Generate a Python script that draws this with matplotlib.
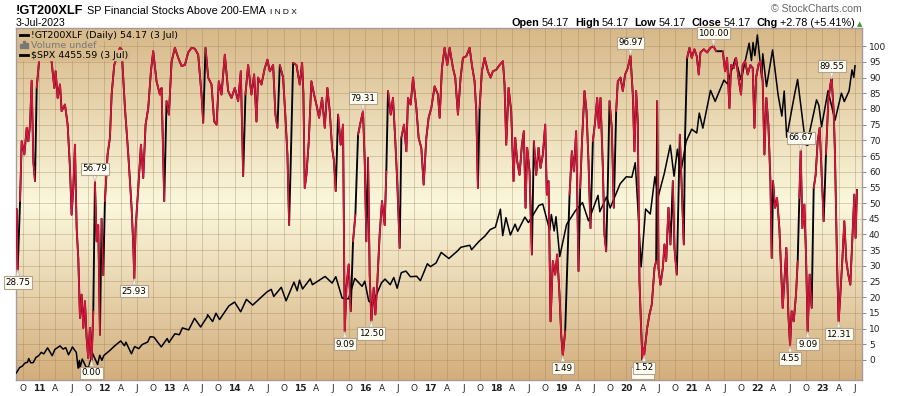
import matplotlib
matplotlib.use('Agg')
import matplotlib.pyplot as plt
from matplotlib.collections import LineCollection
from matplotlib.colors import LinearSegmentedColormap
from matplotlib.lines import Line2D
from matplotlib.patches import Rectangle
import numpy as np
import pandas as pd

# !GT200XLF - % of SP financial stocks above 200-EMA (x = decimal year)
gt_years = [
    2010.659, 2010.674, 2010.710, 2010.735, 2010.776, 2010.812, 2010.837, 2010.863,
    2010.888, 2010.914, 2010.939, 2010.965, 2011.000, 2011.031, 2011.092, 2011.143,
    2011.194, 2011.235, 2011.255, 2011.286, 2011.322, 2011.347, 2011.398, 2011.439,
    2011.475, 2011.500, 2011.526, 2011.551, 2011.577, 2011.602, 2011.628, 2011.653,
    2011.679, 2011.704, 2011.730, 2011.755, 2011.781, 2011.806, 2011.832, 2011.857,
    2011.883, 2011.908, 2011.934, 2011.959, 2011.985, 2012.010, 2012.051, 2012.087,
    2012.113, 2012.153, 2012.189, 2012.240, 2012.266, 2012.317, 2012.368, 2012.419,
    2012.444, 2012.460, 2012.480, 2012.521, 2012.562, 2012.597, 2012.633, 2012.674,
    2012.715, 2012.750, 2012.801, 2012.852, 2012.878, 2012.919, 2012.954, 2012.990,
    2013.031, 2013.082, 2013.133, 2013.184, 2013.235, 2013.286, 2013.337, 2013.388,
    2013.439, 2013.490, 2013.516, 2013.551, 2013.592, 2013.643, 2013.684, 2013.720,
    2013.755, 2013.796, 2013.847,
    2013.898, 2013.949, 2014.000, 2014.051, 2014.092, 2014.128, 2014.163, 2014.204,
    2014.255, 2014.296, 2014.332, 2014.357, 2014.408, 2014.459, 2014.500, 2014.536,
    2014.587, 2014.622, 2014.653, 2014.689, 2014.740, 2014.776, 2014.806, 2014.832,
    2014.857, 2014.893, 2014.944, 2014.995, 2015.031, 2015.051, 2015.071, 2015.097,
    2015.133, 2015.173, 2015.214, 2015.250, 2015.291, 2015.337, 2015.378, 2015.418,
    2015.454, 2015.490, 2015.520, 2015.546, 2015.582, 2015.622, 2015.658, 2015.684,
    2015.709, 2015.745, 2015.776, 2015.811, 2015.847, 2015.888, 2015.929, 2015.964,
    2015.990, 2016.015, 2016.041, 2016.066, 2016.092, 2016.128, 2016.153, 2016.184,
    2016.219, 2016.255, 2016.296, 2016.321, 2016.347, 2016.388, 2016.423, 2016.459,
    2016.490, 2016.526, 2016.551, 2016.592, 2016.628, 2016.653, 2016.694, 2016.730,
    2016.781, 2016.816, 2016.857, 2016.893, 2016.934, 2016.969, 2017.010, 2017.061,
    2017.112, 2017.138, 2017.173, 2017.214, 2017.255, 2017.291, 2017.342, 2017.377,
    2017.418, 2017.459, 2017.495, 2017.546, 2017.597, 2017.632, 2017.673, 2017.699,
    2017.724, 2017.750, 2017.785, 2017.826, 2017.877, 2017.918, 2017.954, 2018.005,
    2018.056, 2018.107, 2018.132, 2018.158, 2018.194, 2018.234, 2018.270, 2018.296,
    2018.326, 2018.362, 2018.398, 2018.428, 2018.454, 2018.479, 2018.515, 2018.551,
    2018.581, 2018.617, 2018.653, 2018.683, 2018.719, 2018.755, 2018.780, 2018.806,
    2018.837, 2018.872, 2018.908, 2018.939, 2018.974, 2019.000, 2019.025, 2019.061,
    2019.092, 2019.128, 2019.163, 2019.194, 2019.229, 2019.265, 2019.291, 2019.321,
    2019.357, 2019.388, 2019.418, 2019.449, 2019.485, 2019.520, 2019.551, 2019.576,
    2019.602, 2019.638, 2019.663, 2019.689, 2019.714, 2019.740, 2019.775, 2019.806,
    2019.842, 2019.867, 2019.908, 2019.944, 2019.979, 2020.020, 2020.061, 2020.097,
    2020.122, 2020.148, 2020.173, 2020.199, 2020.224, 2020.245, 2020.258, 2020.270,
    2020.317, 2020.352, 2020.388, 2020.429, 2020.455, 2020.470, 2020.490, 2020.521,
    2020.557, 2020.582, 2020.608, 2020.643, 2020.674, 2020.710, 2020.735, 2020.771,
    2020.796, 2020.817, 2020.847, 2020.878, 2020.898, 2020.929, 2020.965, 2021.000,
    2021.041, 2021.077, 2021.107, 2021.133, 2021.184, 2021.235, 2021.286, 2021.332,
    2021.373, 2021.475, 2021.510, 2021.541, 2021.577, 2021.602, 2021.643, 2021.679,
    2021.715, 2021.755, 2021.781, 2021.817, 2021.857, 2021.898, 2021.934, 2021.960,
    2021.985, 2022.021, 2022.052, 2022.087, 2022.113, 2022.143, 2022.174, 2022.205,
    2022.225, 2022.245, 2022.276, 2022.307, 2022.342, 2022.368, 2022.393, 2022.419,
    2022.449, 2022.480, 2022.506, 2022.531, 2022.562, 2022.597, 2022.623, 2022.648,
    2022.669, 2022.694, 2022.725, 2022.750, 2022.776, 2022.806, 2022.837, 2022.868,
    2022.898, 2022.929, 2022.960, 2022.990, 2023.021, 2023.056, 2023.092, 2023.123,
    2023.143, 2023.174, 2023.194, 2023.225, 2023.250, 2023.276, 2023.306, 2023.337,
    2023.368, 2023.398, 2023.429, 2023.459, 2023.490, 2023.510, 2023.531,
]
gt_values = [
    48.0, 28.75, 50.6, 69.7, 65.5, 74.0, 69.7, 75.0,
    89.0, 63.0, 57.0, 86.7, 95.0, 99.5, 97.0, 99.0,
    95.0, 86.7, 92.0, 83.5, 87.8, 79.3, 81.4, 75.0,
    61.2, 46.3, 54.8, 68.6, 42.0, 32.5, 13.4, 20.8,
    10.2, 18.7, 7.0, 0.6, 10.2, 0.0, 15.5, 56.79,
    37.8, 43.0, 8.0, 45.0, 27.0, 50.6, 65.5, 70.8,
    84.6, 94.0, 96.3, 99.5, 99.0, 80.3, 65.5, 48.5,
    36.8, 25.93, 42.0, 54.8, 68.6, 58.0, 75.0, 80.3,
    92.0, 98.4, 88.8, 84.6, 86.7, 50.6, 82.5, 78.2,
    95.0, 99.5, 96.3, 93.7, 94.0, 98.0, 99.5, 99.2,
    97.3, 84.6, 75.6, 99.5, 90.0, 87.8, 76.0, 75.0,
    88.8, 84.6, 97.3,
    85.7, 83.5, 86.7, 82.5, 92.0, 58.6, 84.6, 94.0,
    84.6, 91.0, 76.0, 90.0, 87.8, 93.0, 95.7, 92.0,
    94.0, 78.2, 74.0, 94.0, 90.0, 77.2, 65.5, 43.0,
    63.3, 94.7, 94.0, 87.8, 94.7, 84.6, 54.8, 59.0,
    69.7, 88.8, 84.6, 81.4, 77.2, 83.5, 74.0, 86.7,
    79.3, 67.6, 63.3, 53.8, 78.2, 68.6, 75.0, 9.09,
    23.0, 30.4, 15.5, 37.8, 46.3, 71.8, 76.0, 79.31,
    63.3, 37.8, 64.4, 27.2, 12.5, 23.0, 14.5, 25.1,
    40.0, 50.6, 43.0, 60.1, 85.7, 78.2, 83.5, 69.7,
    55.9, 35.7, 70.8, 75.0, 66.5, 83.5, 81.4, 90.0,
    80.3, 70.8, 67.6, 55.9, 70.8, 77.2, 80.3, 87.2,
    84.6, 77.2, 93.0, 99.5, 94.0, 99.5, 93.0, 90.0,
    78.2, 90.0, 96.3, 96.8, 99.5, 94.0, 88.8, 79.3,
    54.8, 80.3, 92.0, 96.3, 92.0, 90.0, 92.0, 92.5,
    94.0, 95.2, 87.8, 68.6, 86.7, 79.3, 57.0, 70.8,
    63.3, 59.0, 68.6, 72.9, 48.5, 67.6, 60.1, 33.6,
    69.7, 59.0, 67.6, 61.2, 65.5, 75.0, 52.7, 57.0,
    12.3, 31.5, 27.2, 33.6, 20.8, 8.0, 1.49, 9.1,
    29.3, 52.7, 66.5, 60.1, 72.9, 28.3, 54.8, 70.8,
    85.7, 79.3, 63.3, 42.0, 69.7, 76.0, 83.5, 74.0,
    83.5, 61.2, 40.0, 34.6, 55.9, 82.5, 74.0, 48.5,
    79.3, 88.8, 90.0, 85.7, 91.0, 93.0, 96.97, 84.6,
    66.5, 85.7, 76.0, 25.1, 10.2, 0.0, 3.8, 1.52,
    10.2, 14.5, 17.7, 29.3, 31.5, 82.5, 29.3, 24.0,
    29.3, 36.8, 31.5, 48.5, 36.8, 57.0, 35.7, 27.2,
    51.6, 71.8, 54.8, 36.8, 71.8, 96.3, 99.5, 96.3,
    99.0, 96.8, 91.0, 98.0, 99.0, 98.0, 99.5, 100.0,
    98.4, 98.4, 92.0, 96.3, 80.3, 94.0, 93.0, 96.3,
    90.0, 84.6, 94.0, 95.2, 91.0, 94.0, 93.0, 74.0,
    90.0, 94.0, 95.2, 88.8, 65.5, 83.5, 75.0, 57.0,
    32.5, 57.0, 48.5, 51.6, 42.0, 29.3, 16.6, 25.1,
    35.7, 14.5, 4.55, 15.5, 12.3, 20.8, 31.5, 51.6,
    66.67, 42.0, 49.5, 33.6, 9.09, 27.2, 16.6, 54.8,
    59.0, 69.7, 74.0, 59.0, 44.2, 65.5, 82.5, 87.8,
    89.55, 79.3, 65.5, 31.5, 12.31, 20.8, 31.5, 44.2,
    31.5, 27.2, 24.0, 37.8, 52.7, 38.9, 54.17,
]

# $SPX overlay
spx_dates = [
    '2010-08-27', '2010-09-15', '2010-09-30', '2010-10-15', '2010-10-29', '2010-11-05',
    '2010-11-16', '2010-11-30', '2010-12-15', '2010-12-31', '2011-01-14', '2011-01-28',
    '2011-02-18', '2011-03-16', '2011-03-31', '2011-04-29', '2011-05-16', '2011-05-31',
    '2011-06-15', '2011-06-30', '2011-07-07', '2011-07-29', '2011-08-08', '2011-08-15',
    '2011-08-19', '2011-08-31', '2011-09-22', '2011-09-30', '2011-10-03', '2011-10-27',
    '2011-11-25', '2011-12-07', '2011-12-19', '2011-12-30', '2012-01-31', '2012-02-29',
    '2012-04-02', '2012-04-23', '2012-05-01', '2012-06-01', '2012-06-19', '2012-07-12',
    '2012-07-31', '2012-08-31', '2012-09-14', '2012-10-05', '2012-11-15', '2012-12-18',
    '2012-12-28', '2013-01-31', '2013-02-25', '2013-03-14', '2013-04-18', '2013-05-21',
    '2013-06-24', '2013-07-31', '2013-08-02', '2013-08-30', '2013-09-18', '2013-10-08',
    '2013-11-29', '2013-12-31', '2014-02-03', '2014-03-07', '2014-04-11', '2014-06-30',
    '2014-07-24', '2014-08-07', '2014-09-18', '2014-10-15', '2014-11-28', '2014-12-16',
    '2014-12-29', '2015-01-15', '2015-02-27', '2015-03-11', '2015-05-21', '2015-06-29',
    '2015-07-20', '2015-08-24', '2015-09-29', '2015-11-03', '2015-12-14', '2015-12-29',
    '2016-01-20', '2016-02-11', '2016-03-31', '2016-04-20', '2016-05-19', '2016-06-08',
    '2016-06-27', '2016-07-20', '2016-08-15', '2016-09-09', '2016-10-14', '2016-11-04',
    '2016-12-13', '2016-12-30', '2017-01-31', '2017-03-01', '2017-04-13', '2017-05-31',
    '2017-06-19', '2017-08-08', '2017-08-18', '2017-09-29', '2017-10-31', '2017-11-30',
    '2017-12-29', '2018-01-26', '2018-02-08', '2018-02-26', '2018-03-23', '2018-04-18',
    '2018-05-03', '2018-06-12', '2018-07-02', '2018-08-29', '2018-09-20', '2018-10-29',
    '2018-11-07', '2018-11-23', '2018-12-03', '2018-12-24', '2019-01-31', '2019-03-21',
    '2019-04-30', '2019-06-03', '2019-07-26', '2019-08-05', '2019-09-12', '2019-10-02',
    '2019-11-27', '2019-12-31', '2020-01-31', '2020-02-19', '2020-03-09', '2020-03-23',
    '2020-04-17', '2020-05-13', '2020-06-08', '2020-06-26', '2020-07-31', '2020-09-02',
    '2020-09-23', '2020-10-12', '2020-10-30', '2020-11-30', '2020-12-31', '2021-01-29',
    '2021-02-12', '2021-03-04', '2021-04-16', '2021-05-12', '2021-06-30', '2021-07-19',
    '2021-08-31', '2021-09-02', '2021-10-04', '2021-11-18', '2021-12-01', '2021-12-10',
    '2021-12-20', '2022-01-03', '2022-01-27', '2022-02-02', '2022-02-23', '2022-03-29',
    '2022-04-29', '2022-05-20', '2022-06-02', '2022-06-16', '2022-07-29', '2022-08-16',
    '2022-09-30', '2022-10-12', '2022-10-17', '2022-11-30', '2022-12-13', '2022-12-28',
    '2023-02-02', '2023-03-13', '2023-04-18', '2023-05-04', '2023-05-31', '2023-06-16',
    '2023-06-26', '2023-07-03',
]
spx_values = [
    1065, 1125, 1141, 1176, 1183, 1225, 1178, 1180, 1236, 1258, 1293, 1276,
    1343, 1256, 1326, 1364, 1329, 1345, 1266, 1321, 1353, 1292, 1119, 1204,
    1124, 1219, 1129, 1131, 1099, 1285, 1159, 1261, 1205, 1258, 1312, 1366,
    1419, 1366, 1406, 1278, 1357, 1334, 1379, 1407, 1466, 1461, 1353, 1446,
    1402, 1498, 1488, 1563, 1541, 1669, 1573, 1686, 1709, 1633, 1725, 1655,
    1806, 1848, 1741, 1878, 1815, 1960, 1988, 1910, 2011, 1862, 2068, 1973,
    2090, 1993, 2105, 2040, 2131, 2058, 2128, 1893, 1884, 2109, 2022, 2078,
    1859, 1829, 2060, 2102, 2040, 2119, 2001, 2173, 2190, 2128, 2133, 2085,
    2271, 2239, 2279, 2396, 2329, 2412, 2453, 2475, 2426, 2519, 2575, 2648,
    2674, 2873, 2581, 2780, 2588, 2708, 2630, 2786, 2726, 2914, 2931, 2641,
    2814, 2633, 2790, 2351, 2704, 2855, 2946, 2744, 3026, 2845, 3010, 2887,
    3154, 3231, 3226, 3386, 2747, 2237, 2875, 2820, 3232, 3009, 3271, 3580,
    3237, 3535, 3270, 3622, 3756, 3714, 3934, 3768, 4185, 4063, 4298, 4258,
    4523, 4537, 4300, 4705, 4513, 4712, 4568, 4796, 4326, 4589, 4226, 4631,
    4132, 3901, 4177, 3667, 4130, 4305, 3586, 3577, 3678, 4080, 4019, 3783,
    4180, 3855, 4154, 4061, 4180, 4410, 4328, 4456,
]

# peak / trough value tags
tag_years = [2010.674, 2011.857, 2011.806, 2012.460, 2015.964, 2015.684, 2016.092,
             2020.061, 2021.332, 2019.025, 2020.245, 2020.270, 2022.669, 2022.506,
             2022.776, 2023.143, 2023.250]
tag_values = [28.75, 56.79, 0.00, 25.93, 79.31, 9.09, 12.50, 96.97, 100.00, 1.49,
              0.00, 1.52, 66.67, 4.55, 9.09, 89.55, 12.31]
tag_above = [False, True, False, False, True, False, False, True, True, False,
             False, False, True, False, False, True, False]

W, H = 900, 396
RED = '#dc143c'

fig = plt.figure(figsize=(W / 100, H / 100), dpi=100)
left, right, top, bottom = 16, 862, 28, 380
ax = fig.add_axes([left / W, 1 - bottom / H, (right - left) / W, (bottom - top) / H])
ax_spx = ax.twinx()
ax_gt = ax.twinx()
ax.set_zorder(1)
ax_spx.set_zorder(2)
ax_gt.set_zorder(3)

# tan -> cream -> tan background
cmap = LinearSegmentedColormap.from_list('bg', [(0, '#d3ae7c'), (0.5, '#fbf8dd'), (1, '#d7b888')])
grad = np.linspace(0, 1, 256).reshape(-1, 1)
ax.imshow(grad, cmap=cmap, aspect='auto', extent=(0, 1, 0, 1), transform=ax.transAxes,
          origin='lower', zorder=0, interpolation='bicubic')

xlim = (2010.648, 2023.608)
ylim = (-6.4, 105.8)

tick_pos, tick_lab = [], []
for yr in range(2010, 2024):
    for q, lab in enumerate([str(yr)[2:], 'A', 'J', 'O']):
        p = yr + q * 0.25
        if xlim[0] < p < xlim[1]:
            tick_pos.append(p)
            tick_lab.append(lab)

ax.set_xticks(tick_pos)
ax.set_xticklabels(tick_lab)
ax.set_yticks(range(0, 101, 5))
ax.set_axisbelow(True)
ax.grid(True, color='#9a7a52', alpha=0.33, lw=0.7)
ax.yaxis.tick_right()
ax.tick_params(axis='y', right=True, left=False, direction='out', length=3, width=0.7,
               color='#888888', labelsize=6.5, labelcolor='#222222', pad=2)
ax.tick_params(axis='x', length=0, labelsize=6.5, labelcolor='#222222', pad=3)
for lbl in ax.get_xticklabels():
    if lbl.get_text().isdigit():
        lbl.set_fontweight('bold')
for s in ax.spines.values():
    s.set_color('#a8999a')
    s.set_linewidth(1.0)

# SPX overlay
d = pd.to_datetime(spx_dates)
spx_years = d.year + (d.dayofyear - 1) / 365.25
ax_spx.plot(spx_years, spx_values, color='black', lw=1.1)
ax_spx.set_ylim(988, 4873)

# GT200XLF line: thin black base, red on top except for big up-jumps / flat spots
gx = np.array(gt_years)
gy = np.array(gt_values)
ax_gt.plot(gx, gy, color='black', lw=1.35)
pts = np.column_stack([gx, gy])
segs = np.stack([pts[:-1], pts[1:]], axis=1)
dif = np.diff(gy)
red_mask = ~((dif >= 20) | (dif == 0))
ax_gt.add_collection(LineCollection(segs[red_mask], colors=RED, linewidths=1.2,
                                    capstyle='round'))
ax_gt.set_ylim(*ylim)

for x, v, up in zip(tag_years, tag_values, tag_above):
    ax_gt.annotate('%.2f' % v, xy=(x, v), xytext=(0, 6 if up else -6),
                   textcoords='offset points', ha='center',
                   va='bottom' if up else 'top', fontsize=6.3,
                   family='DejaVu Sans', annotation_clip=False, zorder=10,
                   bbox=dict(boxstyle='square,pad=0.18', fc='#fffdf2', ec='#b5a28c', lw=0.8),
                   arrowprops=dict(arrowstyle='wedge,tail_width=0.45,shrink_factor=0.5',
                                   fc='#f4f1ea', ec='#c2b6a6', lw=0.5, shrinkA=0, shrinkB=0))

for a in (ax_spx, ax_gt):
    a.set_yticks([])
    for s in a.spines.values():
        s.set_visible(False)

ax.set_xlim(*xlim)
ax.set_ylim(*ylim)
ax_spx.set_xlim(*xlim)

# header text
renderer = fig.canvas.get_renderer()


def text_row(pieces, x_px, y_px, align='left'):
    objs = []
    for s, kw, gap in pieces:
        t = fig.text(0, 1 - y_px / H, s, va='baseline', ha='left', **kw)
        objs.append((t, gap, t.get_window_extent(renderer).width))
    total = sum(w + g for _, g, w in objs)
    x = x_px - total if align == 'right' else x_px
    for t, gap, w in objs:
        t.set_x(x / W)
        x += w + gap


ARIAL = 'Liberation Sans'
text_row([
    ('!GT200XLF', dict(fontsize=9.2, fontweight='bold', family=ARIAL), 4),
    ('SP Financial Stocks Above 200-EMA', dict(fontsize=7.8, family=ARIAL), 4),
    ('I N D X', dict(fontsize=6.0, family=ARIAL), 0),
], 16, 14)
fig.text(16 / W, 1 - 26 / H, '3-Jul-2023', fontsize=7.6, family=ARIAL, va='baseline')
fig.text(862 / W, 1 - 12 / H, '\u00a9 StockCharts.com', fontsize=7.6, family=ARIAL,
         color='#666666', ha='right', va='baseline')
b = dict(fontsize=7.8, fontweight='bold', family=ARIAL)
n = dict(fontsize=7.8, family=ARIAL)
text_row([
    ('Open', b, 2), ('54.17', n, 6), ('High', b, 2), ('54.17', n, 6),
    ('Low', b, 2), ('54.17', n, 6), ('Close', b, 2), ('54.17', n, 6),
    ('Chg', b, 2), ('+2.78 (+5.41%)', n, 2),
    ('\u25b2', dict(fontsize=5, color='#3c963c', family='DejaVu Sans'), 0),
], 862, 26, align='right')

# legend inside plot, each line on an opaque strip of the background colour
LEG_BG = '#d9bc8e'
lg = dict(fontsize=6.8, family='DejaVu Sans', zorder=5, va='baseline')
legend_rows = [('!GT200XLF (Daily) 54.17 (3 Jul)', '#000000', 38),
               ('Volume undef', '#777777', 48),
               ('$SPX 4455.59 (3 Jul)', '#000000', 58)]
for txt, col, y_px in legend_rows:
    t = fig.text(31 / W, 1 - y_px / H, txt, color=col, **lg)
    x_end = t.get_window_extent(renderer).x1
    fig.add_artist(Rectangle((18 / W, 1 - (y_px + 2) / H), (x_end + 1 - 18) / W, 10 / H,
                             color=LEG_BG, transform=fig.transFigure, zorder=4))
for y_px in (35, 55):
    fig.add_artist(Line2D([20 / W, 28 / W], [1 - y_px / H] * 2, color='black', lw=2,
                          transform=fig.transFigure, zorder=5))
for i, hgt in enumerate([4, 7, 5]):
    fig.add_artist(Rectangle(((20 + i * 3) / W, 1 - 48 / H), 2 / W, hgt / H,
                             color='#777777', transform=fig.transFigure, zorder=5))

fig.savefig('out.png', dpi=100)
